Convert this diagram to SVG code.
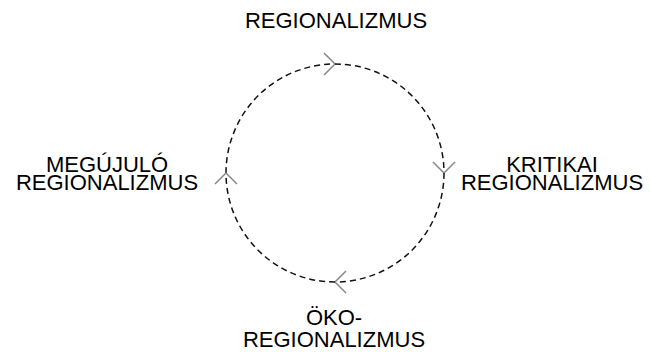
<svg xmlns="http://www.w3.org/2000/svg" width="650" height="352" viewBox="0 0 650 352">
<defs>
<style>
.lbl{font-family:"Liberation Sans",Arial,sans-serif;font-size:22px;fill:#000;text-anchor:middle}
.arc{fill:none;stroke:#111;stroke-width:1.5;stroke-dasharray:6 4}
</style>
<marker id="chev" markerUnits="userSpaceOnUse" markerWidth="30" markerHeight="30" viewBox="-15 -15 30 30" refX="0" refY="0" orient="auto">
<path d="M-11,-11 L0,0 L-11,11" fill="none" stroke="#888" stroke-width="1.5"/>
</marker>
</defs>
<rect width="650" height="352" fill="#fff"/>
<g id="connectors">
<path class="arc" d="M226,173 A109,109 0 0 1 335,64" marker-end="url(#chev)"/>
<path class="arc" d="M335,64 A109,109 0 0 1 444,173" marker-end="url(#chev)"/>
<path class="arc" d="M444,173 A109,109 0 0 1 335,282" marker-end="url(#chev)"/>
<path class="arc" d="M335,282 A109,109 0 0 1 226,173" marker-end="url(#chev)"/>
</g>
<g id="node-regionalizmus"><text class="lbl" x="336" y="28">REGIONALIZMUS</text></g>
<g id="node-kritikai"><text class="lbl" x="552" y="172">KRITIKAI</text><text class="lbl" x="552" y="190">REGIONALIZMUS</text></g>
<g id="node-oko"><text class="lbl" x="334" y="325">ÖKO-</text><text class="lbl" x="334" y="347">REGIONALIZMUS</text></g>
<g id="node-megujulo"><text class="lbl" x="107" y="172">MEGÚJULÓ</text><text class="lbl" x="107" y="190">REGIONALIZMUS</text></g>
</svg>
